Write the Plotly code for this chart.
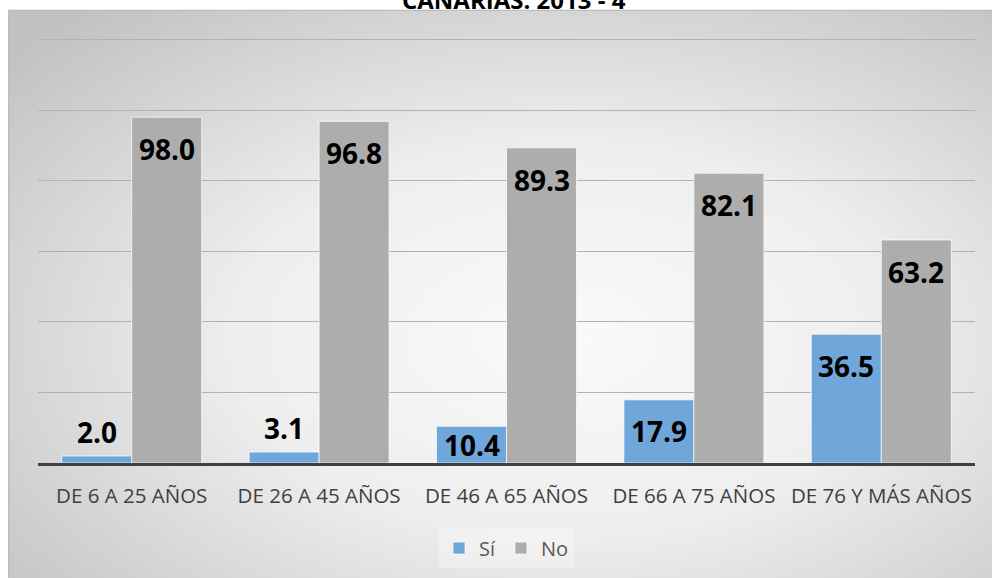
import base64
import plotly.graph_objects as go

# ---- data ----
categories = ["DE 6 A 25 AÑOS", "DE 26 A 45 AÑOS", "DE 46 A 65 AÑOS",
              "DE 66 A 75 AÑOS", "DE 76 Y MÁS AÑOS"]
si_values = [2.0, 3.1, 10.4, 17.9, 36.5]
no_values = [98.0, 96.8, 89.3, 82.1, 63.2]
series_names = ["Sí", "No"]
title_text = "CANARIAS. 2013 - 4"

# ---- layout geometry ----
W, H = 992, 578
ppu = 423 / 120          # pixels per unit
y_max = 121
baseline = 463
ML, MR, MB = 38, 17, H - baseline
plot_h = y_max * ppu
MT = baseline - plot_h
plot_w = W - ML - MR

blue = "#6FA7DB"
gray = "#ADADAD"

fig = go.Figure()
fig.add_trace(go.Bar(x=categories, y=si_values, name=series_names[0],
                     marker=dict(color=blue, line=dict(color="rgba(255,255,255,0.7)", width=1))))
fig.add_trace(go.Bar(x=categories, y=no_values, name=series_names[1],
                     marker=dict(color=gray, line=dict(color="rgba(255,255,255,0.7)", width=1))))

# data labels
annotations = []
for vals, xs in ((si_values, -35), (no_values, 35)):
    for c, v in zip(categories, vals):
        hpx = v * ppu
        if hpx < 30:
            ys = 24
        else:
            ys = -min(32, hpx / 2)
        annotations.append(dict(x=c, y=v, xref="x", yref="y", text=f"{v:.1f}",
                                showarrow=False, xshift=xs, yshift=ys,
                                yanchor="middle", xanchor="center",
                                font=dict(family="Open Sans", size=28, color="black", weight="bold")))

# partially visible title (cut at the top edge, as in the reference)
annotations.append(dict(text=title_text, xref="paper", yref="paper",
                        x=(514 - ML) / plot_w, y=(baseline - 0.0) / plot_h,
                        xanchor="center", yanchor="middle", showarrow=False,
                        font=dict(family="Open Sans", size=24, color="black", weight="bold")))

# gradient background frame as SVG image
fx0, fy0 = 8, 10
fw, fh = W - fx0 + 30, H - fy0 + 30
svg = (f"<svg xmlns='http://www.w3.org/2000/svg' width='{fw}' height='{fh}' viewBox='0 0 {fw} {fh}' preserveAspectRatio='none'>"
       "<defs><radialGradient id='g' cx='0.55' cy='0.55' r='0.72'>"
       "<stop offset='0' stop-color='#fafafa'/><stop offset='0.45' stop-color='#eeeeee'/>"
       "<stop offset='1' stop-color='#c2c2c2'/></radialGradient></defs>"
       f"<rect x='0.75' y='0.75' width='{fw}' height='{fh}' fill='url(#g)' stroke='#bdbdbd' stroke-width='1.5'/></svg>")
src = "data:image/svg+xml;base64," + base64.b64encode(svg.encode()).decode()
img = dict(source=src, xref="paper", yref="paper",
           x=(fx0 - ML) / plot_w, y=(baseline - fy0) / plot_h,
           sizex=fw / plot_w, sizey=fh / plot_h,
           xanchor="left", yanchor="top", sizing="stretch", layer="below")

fig.update_layout(
    width=W, height=H,
    margin=dict(l=ML, r=MR, t=MT, b=MB, autoexpand=False),
    paper_bgcolor="white", plot_bgcolor="rgba(0,0,0,0)",
    barmode="group", bargap=0.253, bargroupgap=0,
    images=[img],
    annotations=annotations,
    legend=dict(orientation="h", x=0.5, xanchor="center", y=(baseline - 548) / plot_h, yanchor="middle",
                font=dict(family="Open Sans", size=20, color="#595959"),
                bgcolor="rgba(255,255,255,0.3)", itemclick=False, itemdoubleclick=False),
    showlegend=True,
    font=dict(family="Open Sans"),
)
fig.update_xaxes(showline=True, linecolor="#404040", linewidth=3, ticks="",
                 tickfont=dict(family="Open Sans", size=20.5, color="#404040"),
                 ticklabelstandoff=12, showgrid=False)
fig.update_yaxes(range=[0, y_max], tickvals=[20, 40, 60, 80, 100, 120], showticklabels=False, showgrid=True,
                 gridcolor="#b2b2b2", gridwidth=1, zeroline=False, showline=False)

fig.write_html("out.html", config={"displayModeBar": False},
               post_script="document.body.style.margin='0';")
